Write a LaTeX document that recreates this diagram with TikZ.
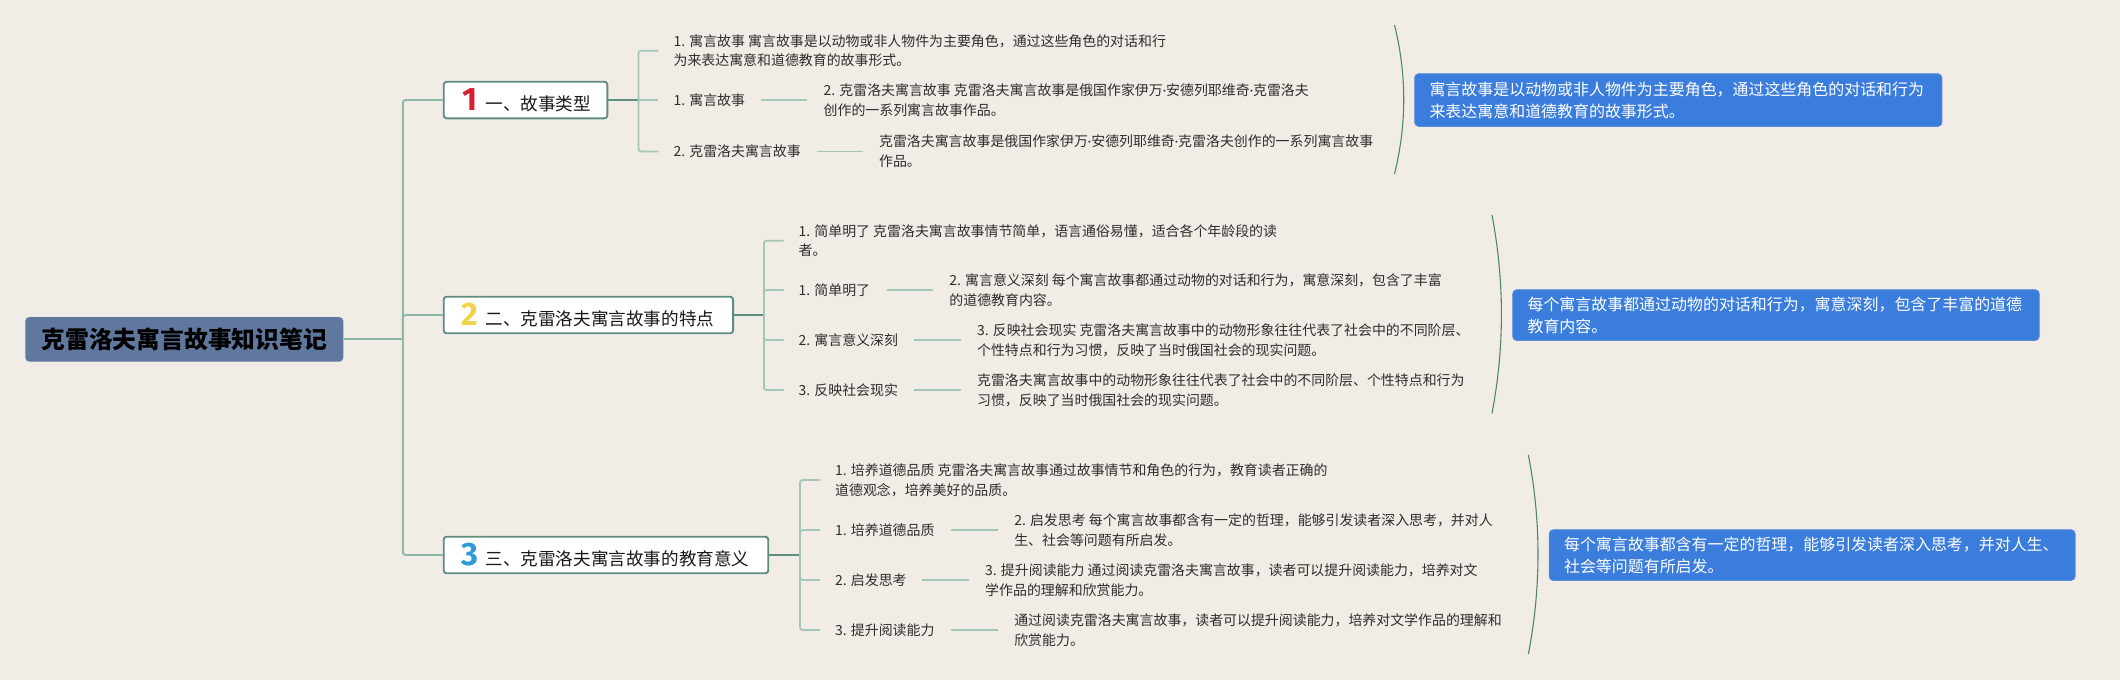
\documentclass[tikz,border=0pt]{standalone}
\usepackage{fontspec}
\usepackage{graphicx}
\setmainfont{Noto Sans CJK SC}
\newfontfamily\numfont{Fira Sans}
\definecolor{bgc}{HTML}{F1ECE6}
\definecolor{rootfill}{HTML}{61789E}
\definecolor{trunkc}{HTML}{8CB8A8}
\definecolor{stemc}{HTML}{5C9081}
\definecolor{twigc}{HTML}{A4C6B8}
\definecolor{boxc}{HTML}{5E8D7F}
\definecolor{bracec}{HTML}{4E8572}
\definecolor{calloutc}{HTML}{3B7DDD}
\definecolor{calloutb}{HTML}{5B8ED6}
\definecolor{numred}{HTML}{D81E34}
\definecolor{numyellow}{HTML}{F0D44C}
\definecolor{numblue}{HTML}{2E9BD9}
\definecolor{leafc}{HTML}{2E2E2E}
\newcommand\bnum[2]{\kern15pt\makebox[9pt][c]{\numfont\bfseries\fontsize{24}{24}\selectfont\color{#1}#2}\kern7pt}
\newcommand\md{{\numfont ·}}
\tikzset{
  rootbox/.style={anchor=west, fill=rootfill, rounded corners=3pt, minimum height=33pt, inner xsep=12pt, inner ysep=0pt, font=\fontsize{17.6}{20}\selectfont\bfseries, text=black},
  branchbox/.style={anchor=west, draw=boxc, line width=1.4pt, fill=white, rounded corners=2pt, minimum height=27pt, inner xsep=0pt, inner ysep=0pt, font=\fontsize{13}{15}\selectfont, text=black!90},
  leaf/.style={anchor=west, inner xsep=0pt, inner ysep=1pt, align=left, font=\fontsize{10.3}{14.6}\selectfont, text=leafc},
  callout/.style={anchor=north west, fill=calloutc, draw=calloutb, line width=0.6pt, rounded corners=3pt, text=white, align=left, inner xsep=11pt, inner ysep=2pt, font=\fontsize{11.8}{16.2}\selectfont},
  trunk/.style={draw=trunkc, line width=1.4pt, rounded corners=2pt},
  stem/.style={draw=stemc, line width=1.5pt},
  twig/.style={draw=twigc, line width=1.3pt, rounded corners=2pt},
  brace/.style={draw=bracec, line width=0.8pt}
}
\begin{document}
\begin{tikzpicture}[x=1pt,y=-1pt]
\fill[bgc] (0,0) rectangle (1568,503);
\useasboundingbox (0,0) rectangle (1568,503);

% root
\node[rootbox] (root) at (18.5,251) {克雷洛夫寓言故事知识笔记};
\coordinate (j0) at (298,251);

% branches
\node[branchbox] (b1) at (327.5,74) {\bnum{numred}{1}一、故事类型\kern12pt};
\node[branchbox] (b2) at (327.5,233) {\bnum{numyellow}{2}二、克雷洛夫寓言故事的特点\kern14pt};
\node[branchbox] (b3) at (327.5,410.5) {\bnum{numblue}{3}三、克雷洛夫寓言故事的教育意义\kern14pt};

\draw[trunk] (root.east) -- (j0);
\draw[trunk] (j0) |- (b1.west);
\draw[trunk] (j0) |- (b2.west);
\draw[trunk] (j0) |- (b3.west);

% branch 1 children
\coordinate (j1) at (472.2,74);
\node[leaf] (c11) at (498,37.5) {1. 寓言故事 寓言故事是以动物或非人物件为主要角色，通过这些角色的对话和行\\为来表达寓意和道德教育的故事形式。};
\node[leaf] (c12) at (498,74) {1. 寓言故事};
\node[leaf] (d12) at (609,74) {2. 克雷洛夫寓言故事 克雷洛夫寓言故事是俄国作家伊万\md 安德列耶维奇\md 克雷洛夫\\创作的一系列寓言故事作品。};
\node[leaf] (c13) at (498,112) {2. 克雷洛夫寓言故事};
\node[leaf] (d13) at (650,112) {克雷洛夫寓言故事是俄国作家伊万\md 安德列耶维奇\md 克雷洛夫创作的一系列寓言故事\\作品。};

\draw[stem] (b1.east) -- (j1);
\draw[twig] (j1) |- ([xshift=-11pt]c11.west);
\draw[twig] (j1) -- ([xshift=-11pt]c12.west);
\draw[twig] (j1) |- ([xshift=-11pt]c13.west);
\draw[twig] ([xshift=11.5pt]c12.east) -- ([xshift=-12pt]d12.west);
\draw[twig] ([xshift=11.5pt]c13.east) -- ([xshift=-12pt]d13.west);

% branch 2 children
\coordinate (j2) at (565,233);
\node[leaf] (c21) at (590.5,178) {1. 简单明了 克雷洛夫寓言故事情节简单，语言通俗易懂，适合各个年龄段的读\\者。};
\node[leaf] (c22) at (590.5,214.5) {1. 简单明了};
\node[leaf] (d22) at (702,214.5) {2. 寓言意义深刻 每个寓言故事都通过动物的对话和行为，寓意深刻，包含了丰富\\的道德教育内容。};
\node[leaf] (c23) at (590.5,251.5) {2. 寓言意义深刻};
\node[leaf] (d23) at (722.5,251.5) {3. 反映社会现实 克雷洛夫寓言故事中的动物形象往往代表了社会中的不同阶层、\\个性特点和行为习惯，反映了当时俄国社会的现实问题。};
\node[leaf] (c24) at (590.5,288.5) {3. 反映社会现实};
\node[leaf] (d24) at (722.5,288.5) {克雷洛夫寓言故事中的动物形象往往代表了社会中的不同阶层、个性特点和行为\\习惯，反映了当时俄国社会的现实问题。};

\draw[stem] (b2.east) -- (j2);
\draw[twig] (j2) |- ([xshift=-11pt]c21.west);
\draw[twig] (j2) |- ([xshift=-11pt]c22.west);
\draw[twig] (j2) |- ([xshift=-11pt]c23.west);
\draw[twig] (j2) |- ([xshift=-11pt]c24.west);
\draw[twig] ([xshift=12pt]c22.east) -- ([xshift=-12pt]d22.west);
\draw[twig] ([xshift=11.5pt]c23.east) -- ([xshift=-11.5pt]d23.west);
\draw[twig] ([xshift=11.5pt]c24.east) -- ([xshift=-11.5pt]d24.west);

% branch 3 children
\coordinate (j3) at (591.7,410.5);
\node[leaf] (c31) at (617.5,355) {1. 培养道德品质 克雷洛夫寓言故事通过故事情节和角色的行为，教育读者正确的\\道德观念，培养美好的品质。};
\node[leaf] (c32) at (617.5,392) {1. 培养道德品质};
\node[leaf] (d32) at (750,392) {2. 启发思考 每个寓言故事都含有一定的哲理，能够引发读者深入思考，并对人\\生、社会等问题有所启发。};
\node[leaf] (c33) at (617.5,429) {2. 启发思考};
\node[leaf] (d33) at (728.5,429) {3. 提升阅读能力 通过阅读克雷洛夫寓言故事，读者可以提升阅读能力，培养对文\\学作品的理解和欣赏能力。};
\node[leaf] (c34) at (617.5,466) {3. 提升阅读能力};
\node[leaf] (d34) at (750,466) {通过阅读克雷洛夫寓言故事，读者可以提升阅读能力，培养对文学作品的理解和\\欣赏能力。};

\draw[stem] (b3.east) -- (j3);
\draw[twig] (j3) |- ([xshift=-11pt]c31.west);
\draw[twig] (j3) |- ([xshift=-11pt]c32.west);
\draw[twig] (j3) |- ([xshift=-11pt]c33.west);
\draw[twig] (j3) |- ([xshift=-11pt]c34.west);
\draw[twig] ([xshift=12pt]c32.east) -- ([xshift=-12pt]d32.west);
\draw[twig] ([xshift=11.5pt]c33.east) -- ([xshift=-11.5pt]d33.west);
\draw[twig] ([xshift=12pt]c34.east) -- ([xshift=-12pt]d34.west);

% braces
\draw[brace] (1031.4,18.5) .. controls (1040.5,55) and (1040.5,92) .. (1031.4,128.7);
\draw[brace] (1103.5,159) .. controls (1112.8,208) and (1112.8,257) .. (1103.5,305.7);
\draw[brace] (1130.4,336.5) .. controls (1139.9,385) and (1139.9,435) .. (1130.4,483.7);

% callouts
\node[callout, text width=368pt, minimum height=39pt] (co1) at (1046,54.2) {寓言故事是以动物或非人物件为主要角色，通过这些角色的对话和行为\\来表达寓意和道德教育的故事形式。};
\node[callout, text width=367.5pt, minimum height=37.5pt] (co2) at (1118.5,214) {每个寓言故事都通过动物的对话和行为，寓意深刻，包含了丰富的道德\\教育内容。};
\node[callout, text width=367pt, minimum height=37.5pt] (co3) at (1145.5,391.5) {每个寓言故事都含有一定的哲理，能够引发读者深入思考，并对人生、\\社会等问题有所启发。};
\end{tikzpicture}
\end{document}
